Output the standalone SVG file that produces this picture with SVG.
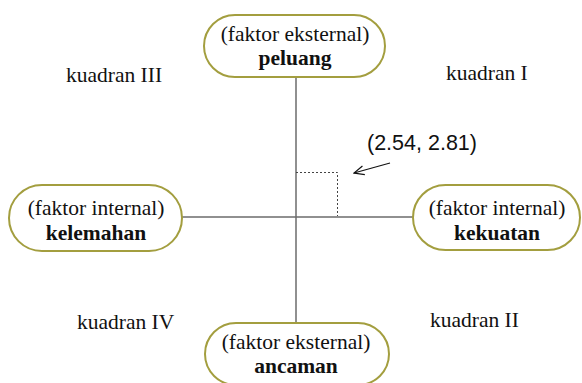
<svg xmlns="http://www.w3.org/2000/svg" width="582" height="383" viewBox="0 0 582 383">
<style>
.box{fill:#fff;stroke:#a39e3f;stroke-width:2}
.nt{font-family:"Liberation Serif","Times New Roman",serif;font-size:21.5px;fill:#111;text-anchor:middle}
.nb{font-family:"Liberation Serif","Times New Roman",serif;font-size:21.5px;fill:#111;text-anchor:middle;font-weight:bold}
.q{font-family:"Liberation Serif","Times New Roman",serif;font-size:21.5px;fill:#111}
.axis{stroke:#6b6b6b;stroke-width:1.5;fill:none}
.dot{stroke:#444;stroke-width:1;stroke-dasharray:2,2;fill:none}
</style>
<defs>
<marker id="arr" markerWidth="12" markerHeight="12" refX="11" refY="6" orient="auto" markerUnits="userSpaceOnUse">
<path d="M1,1.5 L11,6 L1,10.5" fill="none" stroke="#111" stroke-width="1.2"/>
</marker>
</defs>
<rect width="582" height="383" fill="#fff"/>
<g id="connectors">
<line class="axis" x1="296" y1="77" x2="296" y2="323"/>
<line class="axis" x1="182" y1="217" x2="413" y2="217"/>
<polyline class="dot" points="296,172.5 337.5,172.5 337.5,216"/>
<line x1="390" y1="163" x2="354" y2="173" stroke="#111" stroke-width="1.2" marker-end="url(#arr)"/>
</g>
<g id="peluang">
<rect class="box" x="204" y="15" width="181" height="62" rx="31"/>
<text class="nt" x="295" y="41" font-family="Liberation Serif, serif">(faktor eksternal)</text>
<text class="nb" x="295" y="65" font-family="Liberation Serif, serif">peluang</text>
</g>
<g id="kelemahan">
<rect class="box" x="9" y="185" width="173" height="66" rx="33"/>
<text class="nt" x="96" y="215" font-family="Liberation Serif, serif">(faktor internal)</text>
<text class="nb" x="96" y="240" font-family="Liberation Serif, serif">kelemahan</text>
</g>
<g id="kekuatan">
<rect class="box" x="413" y="185" width="167" height="65" rx="32.5"/>
<text class="nt" x="497" y="215" font-family="Liberation Serif, serif">(faktor internal)</text>
<text class="nb" x="497" y="240" font-family="Liberation Serif, serif">kekuatan</text>
</g>
<g id="ancaman">
<rect class="box" x="205" y="323" width="184" height="62" rx="31"/>
<text class="nt" x="296" y="349" font-family="Liberation Serif, serif">(faktor eksternal)</text>
<text class="nb" x="296" y="373" font-family="Liberation Serif, serif">ancaman</text>
</g>
<g id="labels">
<text class="q" x="66" y="82">kuadran III</text>
<text class="q" x="446" y="80">kuadran I</text>
<text class="q" x="77" y="329">kuadran IV</text>
<text class="q" x="430" y="327">kuadran II</text>
<text x="367" y="150" font-family="'Liberation Sans',Arial,sans-serif" font-size="21.5" fill="#111">(2.54, 2.81)</text>
</g>
</svg>
